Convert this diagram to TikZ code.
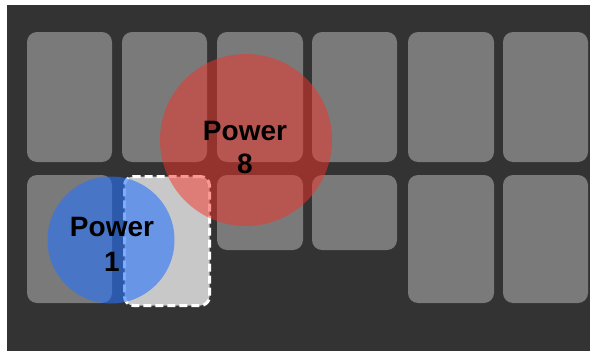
\documentclass[tikz,border=0pt]{standalone}
\usepackage{fontspec}
\setmainfont{Liberation Sans}
\begin{document}
\begin{tikzpicture}[x=1pt,y=-1pt,
  card/.style={rectangle,rounded corners=10pt,fill=cardgray,inner sep=0pt,outer sep=0pt},
  slot/.style={rectangle,rounded corners=9pt,fill=slotgray,draw=white,line width=3pt,dash pattern=on 8pt off 4pt,inner sep=0pt},
  ptxt/.style={font=\bfseries\fontsize{28}{34}\selectfont,text=black,anchor=base,inner sep=0pt}]
\definecolor{bg}{RGB}{51,51,51}
\definecolor{cardgray}{RGB}{122,122,122}
\definecolor{slotgray}{RGB}{200,200,200}
\definecolor{pred}{RGB}{245,50,40}
\definecolor{pblue}{RGB}{40,115,250}
\useasboundingbox (0,0) rectangle (590,351);
\fill[white] (0,0) rectangle (590,351);
\node[fill=bg,inner sep=0pt,minimum width=583pt,minimum height=346pt,anchor=north west] (board) at (7,5) {};
% row 1
\node[card,minimum width=85pt,minimum height=130pt,anchor=north west] (a1) at (27,32) {};
\node[card,minimum width=85pt,minimum height=130pt,anchor=north west] (a2) at (122,32) {};
\node[card,minimum width=86pt,minimum height=130pt,anchor=north west] (a3) at (217,32) {};
\node[card,minimum width=85pt,minimum height=130pt,anchor=north west] (a4) at (312,32) {};
\node[card,minimum width=86pt,minimum height=130pt,anchor=north west] (a5) at (408,32) {};
\node[card,minimum width=85pt,minimum height=130pt,anchor=north west] (a6) at (503,32) {};
% row 2
\node[card,minimum width=85pt,minimum height=128pt,anchor=north west] (b1) at (27,175) {};
\node[slot,minimum width=85pt,minimum height=129pt,anchor=north west] (b2) at (123,175) {};
\node[card,minimum width=86pt,minimum height=75pt,anchor=north west] (b3) at (217,175) {};
\node[card,minimum width=85pt,minimum height=75pt,anchor=north west] (b4) at (312,175) {};
\node[card,minimum width=86pt,minimum height=128pt,anchor=north west] (b5) at (408,175) {};
\node[card,minimum width=85pt,minimum height=128pt,anchor=north west] (b6) at (503,175) {};
% circles
\node[circle,fill=pred,fill opacity=0.5,minimum size=172pt,inner sep=0pt] (red) at (246,140) {};
\node[circle,fill=pblue,fill opacity=0.6,minimum size=127pt,inner sep=0pt] (blue) at (111,240) {};
% labels
\node[ptxt] (r1) at (245,140) {Power};
\node[ptxt] (r2) at (245,173) {8};
\node[ptxt] (l1) at (112,236) {Power};
\node[ptxt] (l2) at (112,271) {1};
\end{tikzpicture}
\end{document}
